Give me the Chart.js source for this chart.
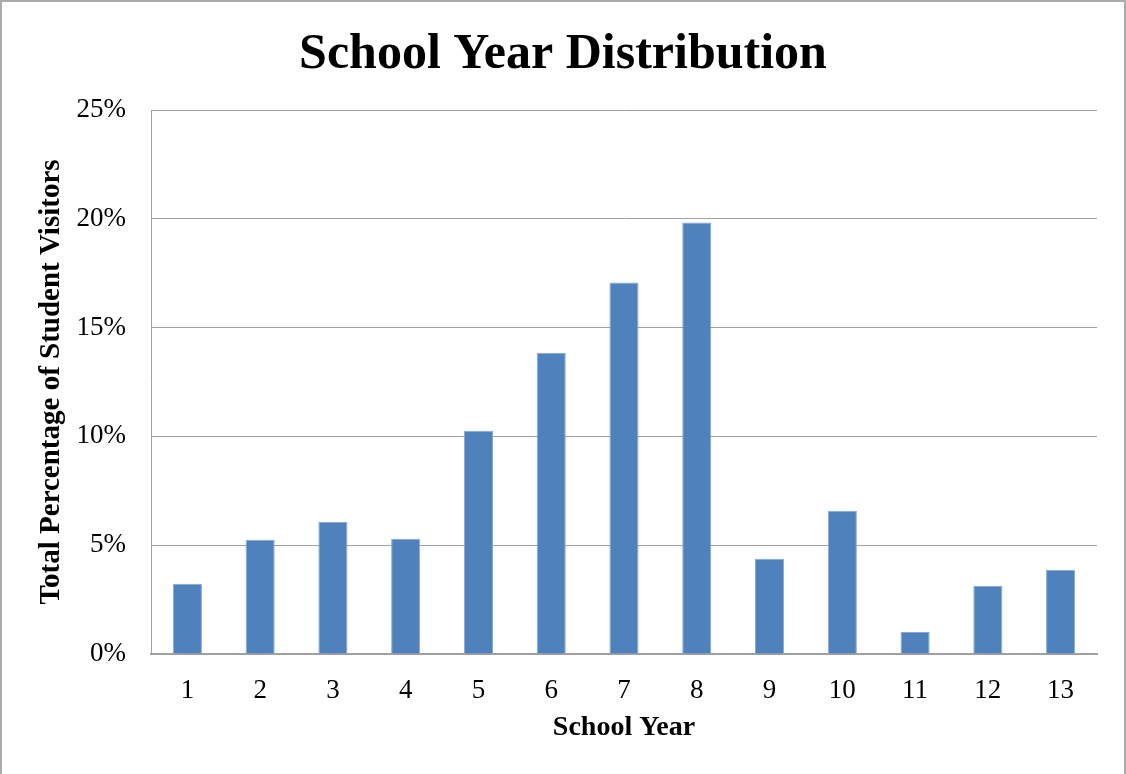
<!DOCTYPE html>
<html>
<head>
<meta charset="utf-8">
<script src="https://cdn.jsdelivr.net/npm/chart.js@4.4.1/dist/chart.umd.min.js"></script>
<style>
  html, body { margin: 0; padding: 0; background: #fff; }
  #frame {
    width: 1126px; height: 774px; box-sizing: border-box;
    border: 2px solid #ababab; border-bottom: none;
  }
  canvas { display: block; }
</style>
</head>
<body>
<div id="frame"><canvas id="chart" width="1122" height="772"></canvas></div>
<script>
// chart data
const schoolYears = ["1", "2", "3", "4", "5", "6", "7", "8", "9", "10", "11", "12", "13"];
const visitorShare = [3.23, 5.25, 6.08, 5.30, 10.26, 13.84, 17.07, 19.83, 4.38, 6.58, 1.01, 3.14, 3.87];
const yTicks = [0, 5, 10, 15, 20, 25];

const serif = "'Liberation Serif', 'Times New Roman', serif";

const myChart = new Chart(document.getElementById("chart"), {
    type: "bar",
    data: {
        labels: schoolYears,
        datasets: [
            {
                label: "Total Percentage of Student Visitors",
                data: visitorShare,
                backgroundColor: "#4f81bd",
                borderColor: "#86a9d6",
                borderWidth: 1,
                borderSkipped: "bottom",
                barPercentage: 0.4,
                categoryPercentage: 1,
            },
        ],
    },
    options: {
        responsive: false,
        animation: false,
        // same padding both sides so the title stays centred on the page
        layout: { padding: { left: 27, right: 27, top: 0, bottom: 0 } },
        plugins: {
            legend: { display: false },
            tooltip: { enabled: false },
            title: {
                display: true,
                text: "School Year Distribution",
                color: "#000",
                font: { family: serif, size: 50, weight: "bold" },
                padding: { top: 23, bottom: 25 },
            },
        },
        scales: {
            x: {
                grid: { display: false },
                border: { display: true, color: "#a0a0a0", width: 2 },
                ticks: {
                    color: "#000",
                    font: { family: serif, size: 27 },
                    padding: 13,
                    maxRotation: 0,
                },
                title: {
                    display: true,
                    text: "School Year",
                    color: "#000",
                    font: { family: serif, size: 28, weight: "bold" },
                    padding: { top: 0, bottom: 29 },
                },
                afterFit: (scale) => { scale.height = 120; },
            },
            y: {
                min: yTicks[0],
                max: yTicks[yTicks.length - 1],
                afterBuildTicks: (scale) => { scale.ticks = yTicks.map((v) => ({ value: v })); },
                grid: { color: "#a0a0a0", lineWidth: 1, drawTicks: false },
                border: { display: true, color: "#a0a0a0", width: 1 },
                ticks: {
                    color: "#000",
                    font: { family: serif, size: 27 },
                    padding: 25,
                    callback: (v) => v + "%",
                },
                title: {
                    display: true,
                    text: "Total Percentage of Student Visitors",
                    color: "#000",
                    font: { family: serif, size: 29, weight: "bold" },
                    padding: { top: 5, bottom: 0 },
                },
                afterFit: (scale) => { scale.width = 122; },
            },
        },
    },
});
</script>
</body>
</html>
